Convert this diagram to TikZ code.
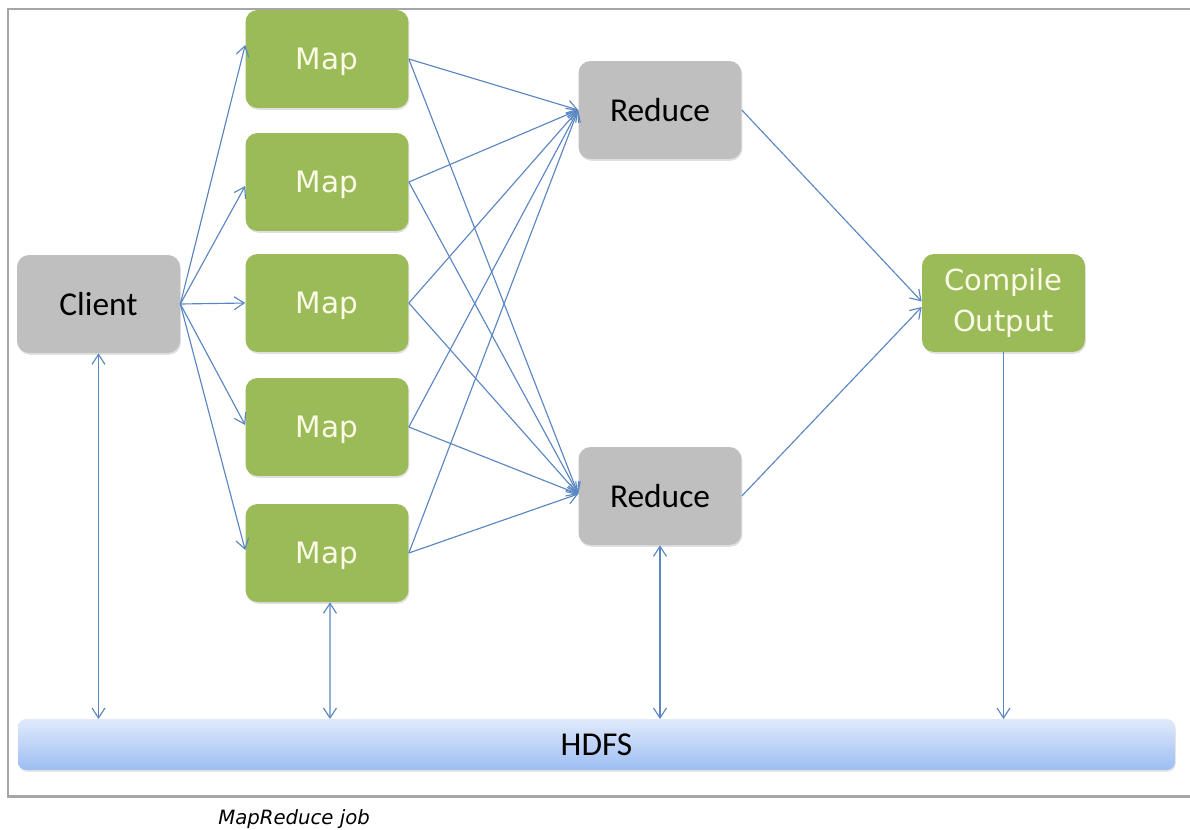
\documentclass[tikz,border=0pt]{standalone}
\usepackage{fontspec}
\setmainfont{Carlito}
\newfontfamily\dejavu{DejaVu Sans}
\usetikzlibrary{arrows.meta,shadows}
\definecolor{mgreen}{HTML}{9BBB59}
\definecolor{mgray}{HTML}{BFBFBF}
\definecolor{marrow}{HTML}{5A86C2}
\definecolor{mcream}{HTML}{FAFAE6}
\definecolor{mframe}{HTML}{A6A6A6}
\definecolor{htop}{HTML}{E0EAFB}
\definecolor{hbot}{HTML}{9DBDF3}
\tikzset{
  box/.style={rounded corners=0.24cm, minimum width=3.26cm, minimum height=1.96cm, inner sep=0pt, align=center,
    drop shadow={shadow xshift=0.5pt, shadow yshift=-1pt, opacity=0.25}},
  graybox/.style={box, fill=mgray, text=black, font=\fontsize{19}{22}\selectfont},
  greenbox/.style={box, fill=mgreen, text=mcream, font=\dejavu\fontsize{16.8}{23}\selectfont},
  mapbox/.style={greenbox, text depth=0pt},
  conn/.style={draw=marrow, line width=0.65pt, -{Straight Barb[length=2mm,width=2.6mm]}},
  dconn/.style={draw=marrow, line width=0.65pt, {Straight Barb[length=2mm,width=2.6mm]}-{Straight Barb[length=2mm,width=2.6mm]}},
}
\begin{document}
\begin{tikzpicture}[x=0.02cm, y=-0.02cm]
\useasboundingbox (0,0) rectangle (1190,829);
% frame
\draw[mframe, line width=1.7pt] (1190,9) -- (8,9) -- (8,796) -- (1190,796);
% nodes
\node[graybox] (client) at (98.5,304) {Client};
\node[mapbox] (m1) at (327,59) {Map};
\node[mapbox] (m2) at (327,182) {Map};
\node[mapbox] (m3) at (327,303) {Map};
\node[mapbox] (m4) at (327,427) {Map};
\node[mapbox] (m5) at (327,553) {Map};
\node[graybox] (r1) at (660,110) {Reduce};
\node[graybox] (r2) at (660,496) {Reduce};
\node[greenbox, font=\dejavu\fontsize{16.5}{23.5}\selectfont] (co) at (1003.5,303) {Compile\\Output};
\node[rounded corners=0.16cm, minimum width=23.14cm, minimum height=1.02cm, inner sep=0pt,
  top color=htop, bottom color=hbot, font=\fontsize{19}{22}\selectfont,
  drop shadow={shadow xshift=0.5pt, shadow yshift=-1pt, opacity=0.2}] (hdfs) at (596.5,744.5) {HDFS};
% client to maps
\draw[conn] (client.east) -- ([yshift=0.28cm]m1.west);
\draw[conn] (client.east) -- ([yshift=-0.08cm]m2.west);
\draw[conn] (client.east) -- (m3.west);
\draw[conn] (client.east) -- ([yshift=0.04cm]m4.west);
\draw[conn] (client.east) -- ([yshift=0.06cm]m5.west);
% maps to reducers
\foreach \m in {m1,m2,m3,m4,m5}{
  \draw[conn] (\m.east) -- (r1.west);
  \draw[conn] (\m.east) -- ([yshift=0.04cm]r2.west);
}
% reducers to compile
\draw[conn] (r1.east) -- ([yshift=0.03cm]co.west);
\draw[conn] (r2.east) -- ([yshift=-0.08cm]co.west);
% HDFS connections
\coordinate (h1) at (98.5,719);
\coordinate (h2) at (330,719);
\coordinate (h3) at (660,719);
\coordinate (h4) at (1003.5,719);
\draw[dconn] (client.south) -- (h1);
\draw[dconn] ([xshift=0.06cm]m5.south) -- (h2);
\draw[dconn] (r2.south) -- (h3);
\draw[conn] (co.south) -- (h4);
% caption
\node[font=\dejavu\itshape\fontsize{11.2}{13}\selectfont, anchor=west, inner sep=0pt] (cap) at (218,819) {MapReduce job};
\end{tikzpicture}
\end{document}
